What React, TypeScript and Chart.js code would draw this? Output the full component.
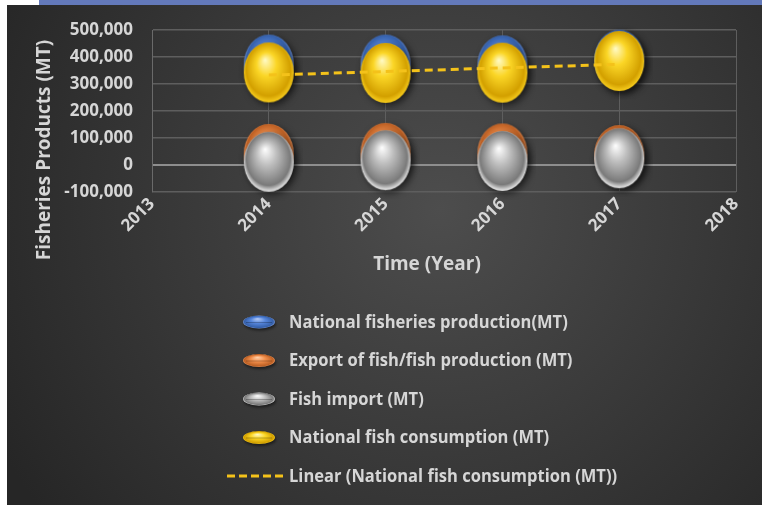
import React, { useEffect, useRef } from "react";
import { Chart, registerables } from "chart.js";

Chart.register(...registerables);

// ---------- data ----------
const years = [2014, 2015, 2016, 2017];
const xTicks = [2013, 2014, 2015, 2016, 2017, 2018];
const yTicks = [-100000, 0, 100000, 200000, 300000, 400000, 500000];
const production = [372000, 372000, 369000, 390000];
const exportFish = [41000, 45000, 43000, 37000];
const importFish = [12000, 18000, 15000, 25000];
const consumption = [343000, 341000, 342000, 385000];
const trendYears = [2014, 2017];
const trendValues = [333000, 373000];

const seriesNames = [
  "National fisheries production(MT)",
  "Export of fish/fish production (MT)",
  "Fish import (MT)",
  "National fish consumption (MT)",
  "Linear (National fish consumption (MT))",
];
const xTitle = "Time (Year)";
const yTitle = "Fisheries Products (MT)";

// ---------- styles ----------
type Shade = { hi: string; base: string; dark: string; rim: string };
const shades: Shade[] = [
  { hi: "#b8ccf4", base: "#5686dc", dark: "#3560aa", rim: "#7090d0" },
  { hi: "#ffd2ae", base: "#f28f4c", dark: "#bd6024", rim: "#e69058" },
  { hi: "#ffffff", base: "#bebebe", dark: "#7a7a7a", rim: "#d4d4d4" },
  { hi: "#fffbc8", base: "#fbd626", dark: "#d3a000", rim: "#f0c418" },
];
const trendColor = "#f4c21a";
const tickFont = { family: "'Open Sans', 'Noto Sans', sans-serif", size: 17, weight: "bold" as const };
const textColor = "#d6d6d6";
const legendFont = "bold 17px 'Open Sans', 'Noto Sans', sans-serif";
const legendSqueeze = 0.972;
const yTitleFont = "bold 19px 'Open Sans', 'Noto Sans', sans-serif";
const xTitleFont = "bold 19px 'Open Sans', 'Noto Sans', sans-serif";

function makeSphere(c: Shade): HTMLCanvasElement {
  const rx = 25, ry = 30, m = 9;
  const cv = document.createElement("canvas");
  cv.width = 2 * rx + 2 * m;
  cv.height = 2 * ry + 2 * m;
  const ctx = cv.getContext("2d")!;
  const cx = cv.width / 2, cy = cv.height / 2;
  ctx.save();
  ctx.translate(cx, cy);
  ctx.scale(1, ry / rx);
  ctx.shadowColor = "rgba(0,0,0,0.5)";
  ctx.shadowBlur = 7;
  ctx.shadowOffsetX = 3;
  ctx.shadowOffsetY = 3;
  const g = ctx.createRadialGradient(-0.15 * rx, -0.42 * rx, 0, 0, -0.05 * rx, rx);
  g.addColorStop(0, c.hi);
  g.addColorStop(0.4, c.base);
  g.addColorStop(0.88, c.dark);
  g.addColorStop(1, c.rim);
  ctx.fillStyle = g;
  ctx.beginPath();
  ctx.arc(0, 0, rx, 0, Math.PI * 2);
  ctx.fill();
  ctx.restore();
  return cv;
}

function drawLegendIcon(ctx: CanvasRenderingContext2D, x: number, y: number, c: Shade) {
  const rx = 16, ry = 6.5;
  ctx.save();
  ctx.translate(x, y);
  ctx.scale(1, ry / rx);
  ctx.shadowColor = "rgba(0,0,0,0.5)";
  ctx.shadowBlur = 3;
  ctx.shadowOffsetX = 1;
  ctx.shadowOffsetY = 2;
  const g = ctx.createRadialGradient(-0.1 * rx, -0.5 * rx, 0, 0, 0, rx);
  g.addColorStop(0, c.hi);
  g.addColorStop(0.45, c.base);
  g.addColorStop(0.9, c.dark);
  g.addColorStop(1, c.rim);
  ctx.fillStyle = g;
  ctx.beginPath();
  ctx.arc(0, 0, rx, 0, Math.PI * 2);
  ctx.fill();
  ctx.restore();
  ctx.save();
  ctx.strokeStyle = "rgba(0,0,0,0.25)";
  ctx.lineWidth = 1;
  ctx.beginPath();
  ctx.moveTo(x - rx + 3, y + 0.5);
  ctx.lineTo(x + rx - 3, y + 0.5);
  ctx.stroke();
  ctx.restore();
}

const backgroundPlugin = {
  id: "bg",
  beforeDraw(chart: any) {
    const { ctx, width, height } = chart;
    ctx.save();
    ctx.fillStyle = "#ffffff";
    ctx.fillRect(0, 0, width, height);
    ctx.fillStyle = "#6379ba";
    ctx.fillRect(39, 0, width - 39, 5);
    const g = ctx.createRadialGradient(440, 210, 0, 440, 210, 500);
    g.addColorStop(0, "#4d4d4d");
    g.addColorStop(1, "#262626");
    ctx.fillStyle = g;
    ctx.fillRect(7, 5, width - 7, height - 5);
    ctx.restore();
  },
};

const overlayPlugin = {
  id: "overlay",
  afterDraw(chart: any) {
    const ctx: CanvasRenderingContext2D = chart.ctx;
    ctx.save();
    ctx.fillStyle = textColor;
    ctx.textAlign = "center";
    ctx.textBaseline = "middle";
    // axis titles
    ctx.font = xTitleFont;
    ctx.fillText(xTitle, 427, 265);
    ctx.font = yTitleFont;
    ctx.save();
    ctx.translate(45, 150);
    ctx.rotate(-Math.PI / 2);
    ctx.fillText(yTitle, 0, 0);
    ctx.restore();
    // legend
    ctx.font = legendFont;
    ctx.textAlign = "left";
    const y0 = 322, step = 38.5, iconX = 259, textX = 289;
    seriesNames.forEach((name, i) => {
      const y = y0 + i * step;
      if (i < 4) {
        drawLegendIcon(ctx, iconX, y, shades[i]);
      } else {
        ctx.save();
        ctx.strokeStyle = trendColor;
        ctx.lineWidth = 3;
        ctx.setLineDash([8, 4]);
        ctx.beginPath();
        ctx.moveTo(227, y);
        ctx.lineTo(286, y);
        ctx.stroke();
        ctx.restore();
      }
      ctx.save();
      ctx.translate(textX, y + 1);
      ctx.scale(legendSqueeze, 1);
      ctx.fillStyle = textColor;
      ctx.fillText(name, 0, 0);
      ctx.restore();
    });
    ctx.restore();
  },
};

export default function App() {
  const ref = useRef<HTMLCanvasElement>(null);
  useEffect(() => {
    document.body.style.margin = "0";
    const canvas = ref.current!;
    const spheres = shades.map(makeSphere);
    const pts = (vals: number[]) => years.map((x, i) => ({ x, y: vals[i] }));
    const bubble = (label: string, vals: number[], i: number, order: number) => ({
      type: "scatter" as const,
      label,
      data: pts(vals),
      pointStyle: spheres[i],
      pointRadius: 25,
      pointHoverRadius: 25,
      showLine: false,
      clip: false as any,
      order,
    });
    const chart = new Chart(canvas, {
      type: "scatter",
      data: {
        datasets: [
          bubble(seriesNames[0], production, 0, 4),
          bubble(seriesNames[1], exportFish, 1, 3),
          bubble(seriesNames[2], importFish, 2, 2),
          bubble(seriesNames[3], consumption, 3, 1),
          {
            type: "line" as const,
            label: seriesNames[4],
            data: trendYears.map((x, i) => ({ x, y: trendValues[i] })),
            borderColor: trendColor,
            borderWidth: 3,
            borderDash: [8, 5],
            pointRadius: 0,
            fill: false,
            order: 0,
            clip: false as any,
          } as any,
        ],
      },
      options: {
        responsive: false,
        devicePixelRatio: 1,
        animation: false,
        events: [],
        layout: { padding: { top: 30, right: 26, left: 0, bottom: 0 } },
        plugins: { legend: { display: false }, tooltip: { enabled: false } },
        scales: {
          x: {
            type: "linear",
            min: 2013,
            max: 2018,
            afterBuildTicks: (s: any) => {
              s.ticks = xTicks.map((v) => ({ value: v }));
            },
            afterFit: (s: any) => {
              s.height = 313;
            },
            ticks: {
              callback: (v: any) => String(v),
              minRotation: 45,
              maxRotation: 45,
              autoSkip: false,
              font: tickFont,
              color: textColor,
              padding: 2,
            },
            grid: { color: "#5e5e5e", lineWidth: 1, drawTicks: false },
            border: { display: false },
          },
          y: {
            type: "linear",
            min: -100000,
            max: 500000,
            afterBuildTicks: (s: any) => {
              s.ticks = yTicks.map((v) => ({ value: v }));
            },
            afterFit: (s: any) => {
              s.width = 152;
            },
            ticks: {
              callback: (v: any) => Number(v).toLocaleString("en-US"),
              font: tickFont,
              color: textColor,
              padding: 19,
            },
            grid: {
              color: (c: any) => (c.tick && c.tick.value === 0 ? "#8e8e8e" : "#5e5e5e"),
              lineWidth: (c: any) => (c.tick && c.tick.value === 0 ? 2 : 1.5),
              drawTicks: false,
            },
            border: { display: true, color: "#6a6a6a", width: 1 },
          },
        },
      },
      plugins: [backgroundPlugin, overlayPlugin],
    } as any);
    return () => chart.destroy();
  }, []);
  return (
    <canvas
      ref={ref}
      width={762}
      height={505}
      style={{ display: "block", width: 762, height: 505 }}
    />
  );
}
